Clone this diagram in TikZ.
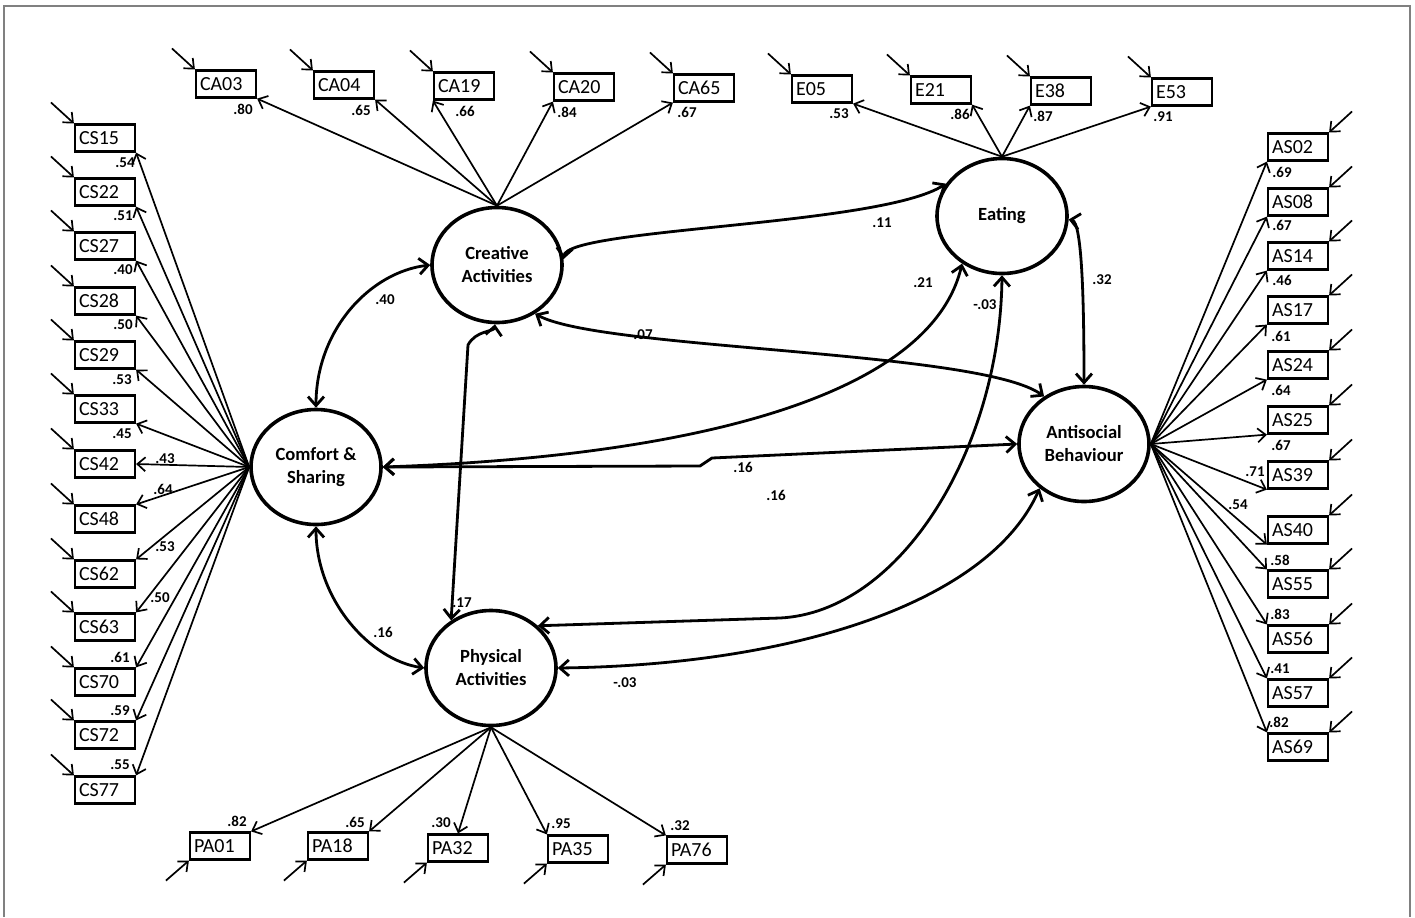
\documentclass[tikz,border=0pt]{standalone}
\usepackage{fontspec}
\setmainfont{Carlito}
\usetikzlibrary{arrows.meta, shapes.geometric}

\definecolor{frame_gray}{HTML}{808080}

\begin{document}
\begin{tikzpicture}[
    x=0.5pt, y=-0.5pt,
    indicator/.style={draw, line width=1.1pt, inner xsep=2pt, inner ysep=0pt,
        text width=26pt, align=left, minimum height=13.5pt,
        font=\fontsize{10}{12}\selectfont},
    latent/.style={draw, ellipse, line width=1.8pt, inner sep=0pt,
        minimum width=65pt, minimum height=57.5pt, align=center,
        font=\fontsize{9.3}{11.5}\selectfont\bfseries},
    loading/.style={line width=0.85pt, -{Straight Barb[length=4pt, width=7pt]}},
    residual/.style={line width=0.85pt, -{Straight Barb[length=4pt, width=7pt]}},
    covar/.style={line width=1.4pt,
        {Straight Barb[length=4.5pt, width=8pt]}-{Straight Barb[length=4.5pt, width=8pt]}},
    coef/.style={font=\fontsize{7.5}{8}\selectfont\bfseries, inner sep=0pt}
]
\useasboundingbox (0,0) rectangle (1415,917);

%% ================================================================
%% Rahmen
%% ================================================================
\draw[frame_gray, line width=0.8pt] (4,917) -- (4,6) -- (1410,6) -- (1410,917);

%% ================================================================
%% Latente Variablen
%% ================================================================
\node[latent] (ca)  at (497,265)  {Creative\\Activities};
\node[latent] (eat) at (1002,216) {Eating};
\node[latent] (cs)  at (316,467)  {Comfort \&\\Sharing};
\node[latent] (as)  at (1084,444) {Antisocial\\Behaviour};
\node[latent] (pa)  at (491,668)  {Physical\\Activities};

%% ================================================================
%% Comfort & Sharing: Indikatoren links
%% ================================================================
\foreach \n/\y/\anc/\lx/\ly/\w in {
    15/138/south east/125/163/.54, 22/192/south east/123/216/.51,
    27/246/south east/123/270/.40, 28/301/south east/123/325/.50,
    29/355/south east/122/380/.53, 33/409/south east/122/434/.45,
    42/464/east/165/459/.43,       48/519/north east/163/489/.64,
    62/574/north east/165/547/.53, 63/627/north east/160/598/.50,
    70/682/north east/120/657/.61, 72/735/north east/120/711/.59,
    77/790/north east/120/765/.55} {
    \node[indicator] (cs\n) at (105,\y) {CS\n};
    \draw[residual] ([shift={(-23,-21)}]cs\n.north west) -- (cs\n.north west);
    \draw[loading] (cs.west) -- (cs\n.\anc);
    \node[coef] (cs\n-w) at (\lx,\ly) {\w};
}

%% ================================================================
%% Creative Activities: Indikatoren oben
%% ================================================================
\foreach \n/\x/\y/\anc/\lx/\ly/\w in {
    03/226/84/south east/243/109/.80, 04/344/85/south east/361/110/.65,
    19/464/86/south west/465/111/.66, 20/584/87/south west/567/112/.84,
    65/704/88/south west/687/112/.67} {
    \node[indicator] (ca\n) at (\x,\y) {CA\n};
    \draw[residual] ([shift={(-23,-21)}]ca\n.north west) -- (ca\n.north west);
    \draw[loading] (ca.north) -- (ca\n.\anc);
    \node[coef] (ca\n-w) at (\lx,\ly) {\w};
}

%% ================================================================
%% Eating: Indikatoren oben
%% ================================================================
\foreach \n/\x/\y/\anc/\lx/\ly/\w in {
    05/822/89/south east/839/114/.53, 21/941/90/south east/960/114/.86,
    38/1061/91/south west/1043/116/.87, 53/1182/92/south west/1163/117/.91} {
    \node[indicator] (e\n) at (\x,\y) {E\n};
    \draw[residual] ([shift={(-23,-21)}]e\n.north west) -- (e\n.north west);
    \draw[loading] (eat.north) -- (e\n.\anc);
    \node[coef] (e\n-w) at (\lx,\ly) {\w};
}

%% ================================================================
%% Antisocial Behaviour: Indikatoren rechts
%% ================================================================
\foreach \n/\y/\anc/\lx/\ly/\w in {
    02/147/south west/1282/172/.69, 08/202/south west/1282/225/.67,
    14/256/south west/1282/280/.46, 17/310/south west/1281/336/.61,
    24/365/south west/1281/390/.64, 25/420/south west/1281/445/.67,
    39/475/south west/1255/472/.71, 40/530/south west/1238/505/.54,
    55/584/north west/1280/560/.58, 56/639/north west/1280/614/.83,
    57/693/north west/1280/669/.41, 69/747/north west/1279/722/.82} {
    \node[indicator] (as\n) at (1298,\y) {AS\n};
    \draw[residual] ([shift={(23,-21)}]as\n.north east) -- (as\n.north east);
    \draw[loading] (as.east) -- (as\n.\anc);
    \node[coef] (as\n-w) at (\lx,\ly) {\w};
}

%% ================================================================
%% Physical Activities: Indikatoren unten
%% ================================================================
\foreach \n/\x/\y/\anc/\lx/\ly/\w in {
    01/220/846/north east/237/821/.82, 18/338/846/north east/355/822/.65,
    32/458/848/north/441/823/.30,      35/578/849/north west/561/824/.95,
    76/697/850/north west/680/826/.32} {
    \node[indicator] (pa\n) at (\x,\y) {PA\n};
    \draw[residual] ([shift={(-23,20)}]pa\n.south west) -- (pa\n.south west);
    \draw[loading] (pa.south) -- (pa\n.\anc);
    \node[coef] (pa\n-w) at (\lx,\ly) {\w};
}

%% ================================================================
%% Kovarianzen zwischen den latenten Variablen
%% ================================================================
\draw[covar] (cs.north) .. controls (316,330) and (370,272) .. (ca.west);
\draw[covar] (cs.south) .. controls (316,600) and (370,660) .. (pa.west);
\draw[covar] (ca.268) .. controls (494,332) and (476,330) .. (468,345) -- (pa.130);
\draw[covar] (ca.5) .. controls (567,228) and (880,226) .. (eat.150);
\draw[covar] (ca.308) .. controls (600,350) and (980,350) .. (as.130);
\draw[covar] (eat.-3) .. controls (1082,222) and (1084,300) .. (as.north);
\draw[covar] (cs.east) .. controls (680,457) and (930,400) .. (eat.230);
\draw[covar] (cs.east) -- (700,466) -- (712,458) -- (as.west);
\draw[covar] (pa.42) -- (780,618) .. controls (900,612) and (1000,450) .. (eat.south);
\draw[covar] (pa.east) .. controls (800,665) and (990,600) .. (as.225);

%% --- Koeffizienten ---
\node[coef] (c-cs-ca)   at (385,300)  {.40};
\node[coef] (c-cs-pa)   at (383,632)  {.16};
\node[coef] (c-ca-pa)   at (462,603)  {.17};
\node[coef] (c-ca-eat)  at (882,223)  {.11};
\node[coef] (c-ca-as)   at (643,335)  {.07};
\node[coef] (c-eat-as)  at (1102,280) {.32};
\node[coef] (c-cs-eat)  at (923,283)  {.21};
\node[coef] (c-cs-as)   at (743,467)  {.16};
\node[coef] (c-cs-as2)  at (776,495)  {.16};
\node[coef] (c-pa-eat)  at (985,305)  {-.03};
\node[coef] (c-pa-as)   at (625,683)  {-.03};

\end{tikzpicture}
\end{document}
